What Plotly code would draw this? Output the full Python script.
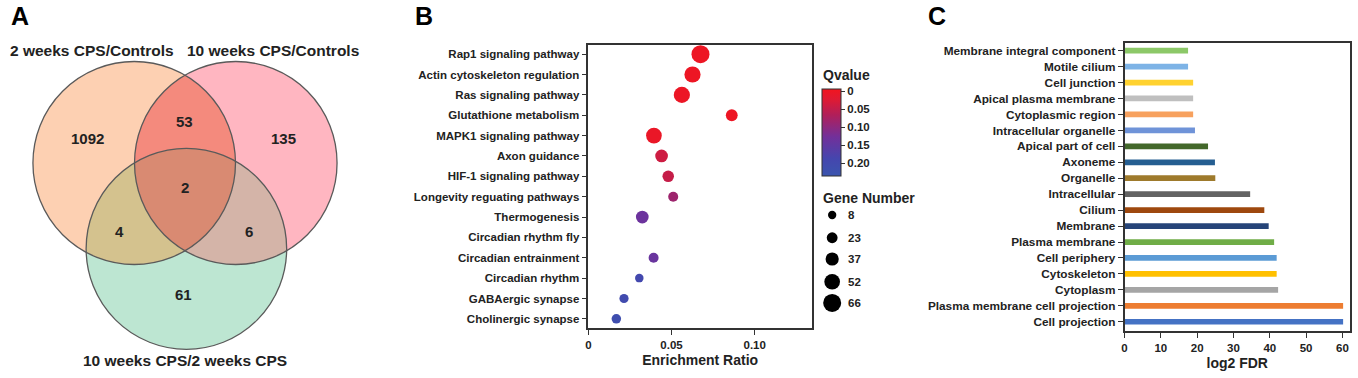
import numpy as np
import plotly.graph_objects as go

# ---------------- DATA ----------------
# Panel A – Venn diagram
venn_sets = ["2 weeks CPS/Controls", "10 weeks CPS/Controls", "10 weeks CPS/2 weeks CPS"]
venn_regions = [(0,), (1,), (2,), (0, 1), (0, 2), (1, 2), (0, 1, 2)]
venn_counts = [1092, 135, 61, 53, 4, 6, 2]

# Panel B – KEGG enrichment bubble plot
pathways = [
    "Rap1 signaling pathway", "Actin cytoskeleton regulation", "Ras signaling pathway",
    "Glutathione metabolism", "MAPK1 signaling pathway", "Axon guidance",
    "HIF-1 signaling pathway", "Longevity reguating pathways", "Thermogenesis",
    "Circadian rhythm fly", "Circadian entrainment", "Circadian rhythm",
    "GABAergic synapse", "Cholinergic synapse",
]
enrichment_ratio = [0.0674, 0.0626, 0.0562, 0.0862, 0.0394, 0.0440, 0.0480, 0.0510,
                    0.0324, None, 0.0392, 0.0306, 0.0214, 0.0168]
qvalues = [0.002, 0.002, 0.003, 0.002, 0.006, 0.040, 0.047, 0.085, 0.135, None,
           0.140, 0.195, 0.205, 0.212]
gene_numbers = [66, 55, 55, 29, 52, 34, 27, 18, 34, None, 18, 9, 13, 15]
gene_legend = [8, 23, 37, 52, 66]
qvalue_ticks = [0, 0.05, 0.10, 0.15, 0.20]
qvalue_ticktext = ["0", "0.05", "0.10", "0.15", "0.20"]

# Panel C – GO cellular component bars (top to bottom as shown)
components = [
    "Membrane integral component", "Motile cilium", "Cell junction", "Apical plasma membrane",
    "Cytoplasmic region", "Intracellular organelle", "Apical part of cell", "Axoneme",
    "Organelle", "Intracellular", "Cilium", "Membrane", "Plasma membrane", "Cell periphery",
    "Cytoskeleton", "Cytoplasm", "Plasma membrane cell projection", "Cell projection",
]
log2_fdr = [17.5, 17.5, 18.9, 18.9, 18.9, 19.4, 23.0, 24.9, 25.0, 34.6, 38.5, 39.7,
            41.2, 41.9, 41.9, 42.3, 60.2, 60.2]

# ---------------- STYLE ----------------
W, H = 1358, 378
FONT = "Liberation Sans, Arial, sans-serif"
DARK = "#222222"
LINE = "#333333"

bar_colors = ["#8CC868", "#7DB3E6", "#FFD230", "#BFBFBF", "#F7A15E", "#6F93D8", "#43682B",
              "#255E91", "#9E7A2C", "#636363", "#9E480E", "#264478", "#70AD47", "#5B9BD5",
              "#FFC000", "#A5A5A5", "#ED7D31", "#4472C4"]

venn_circles = [(131.5, 163.0, 101.5), (233.3, 163.0, 101.5), (183.8, 248.8, 100.5)]
venn_region_colors = ["#FDD0B2", "#FFB6C1", "#BDE6D2", "#F48A7D", "#D4C28E", "#D4B4A8", "#D98A72"]
venn_count_pos = [(85, 138), (281, 138), (181, 294), (182, 121), (117, 231), (247, 231), (182, 187)]
venn_title_pos = [(88.7, 50), (271, 50), (182, 360)]


def px_x(p):
    return p / W


def px_y(p):
    return 1 - p / H


def region_path(idx):
    pts = []
    for i in idx:
        cx, cy, r = venn_circles[i]
        for t in np.linspace(0, 2 * np.pi, 1440, endpoint=False):
            x, y = cx + r * np.cos(t), cy + r * np.sin(t)
            ok = True
            for j in idx:
                if j == i:
                    continue
                jx, jy, jr = venn_circles[j]
                if (x - jx) ** 2 + (y - jy) ** 2 > (jr + 1e-6) ** 2:
                    ok = False
                    break
            if ok:
                pts.append((x, y))
    pts = np.array(pts)
    c = pts.mean(axis=0)
    order = np.argsort(np.arctan2(pts[:, 1] - c[1], pts[:, 0] - c[0]))
    pts = pts[order]
    return "M " + " L ".join(f"{x:.2f},{y:.2f}" for x, y in pts) + " Z"


fig = go.Figure()

# ---------- Panel B: bubbles ----------
def gsize(n):
    return 0 if n is None else 7 + 0.167 * n

cmin, cmax = -0.236, 0.0056
colorscale = [[0.0, "#3A55AE"], [0.2, "#4546AE"], [0.45, "#72309A"],
              [0.7, "#B01F5A"], [0.88, "#DF1A33"], [1.0, "#F2151F"]]

fig.add_trace(go.Scatter(
    x=[np.nan if v is None else v for v in enrichment_ratio], y=pathways,
    mode="markers", xaxis="x", yaxis="y",
    marker=dict(
        size=[gsize(n) for n in gene_numbers], opacity=1,
        color=[np.nan if q is None else -q for q in qvalues],
        colorscale=colorscale, cmin=cmin, cmax=cmax, line=dict(width=0),
        colorbar=dict(
            x=px_x(821), xanchor="left", xpad=0,
            y=px_y(89), yanchor="top", ypad=0,
            len=87 / H, lenmode="fraction", thickness=19, thicknessmode="pixels",
            tickvals=[-v for v in qvalue_ticks], ticktext=qvalue_ticktext,
            ticks="outside", ticklen=4, tickcolor=LINE,
            outlinecolor=LINE, outlinewidth=1,
            tickfont=dict(family=FONT, size=11.5, color=DARK, weight="bold"),
        ),
    ),
    showlegend=False, hoverinfo="skip",
))

# Gene number size legend
fig.add_trace(go.Scatter(
    x=[0] * len(gene_legend), y=gene_legend, mode="markers", xaxis="x4", yaxis="y4",
    marker=dict(size=[gsize(n) for n in gene_legend], color="black", opacity=1,
                line=dict(width=0)),
    showlegend=False, hoverinfo="skip",
))

# ---------- Panel C: bars ----------
fig.add_trace(go.Bar(
    x=log2_fdr[::-1], y=components[::-1], orientation="h", xaxis="x2", yaxis="y2",
    marker=dict(color=bar_colors[::-1], line=dict(width=0)), width=0.36,
    showlegend=False, hoverinfo="skip",
))

# ---------- Panel A: Venn shapes ----------
shapes = []
for i, (cx, cy, r) in enumerate(venn_circles):
    shapes.append(dict(type="circle", xref="x3", yref="y3", x0=cx - r, x1=cx + r,
                       y0=cy - r, y1=cy + r, fillcolor=venn_region_colors[i],
                       line=dict(width=0), layer="below"))
for k in range(3, 7):
    shapes.append(dict(type="path", xref="x3", yref="y3", path=region_path(venn_regions[k]),
                       fillcolor=venn_region_colors[k], line=dict(width=0), layer="below"))
for cx, cy, r in venn_circles:
    shapes.append(dict(type="circle", xref="x3", yref="y3", x0=cx - r, x1=cx + r,
                       y0=cy - r, y1=cy + r, line=dict(color="#5A5A5A", width=1.3)))

annotations = []
for (x, y), n in zip(venn_count_pos, venn_counts):
    annotations.append(dict(x=x, y=y, xref="x3", yref="y3", text=str(n), showarrow=False,
                            font=dict(family=FONT, size=15, color=DARK, weight="bold")))
for (x, y), t in zip(venn_title_pos, venn_sets):
    annotations.append(dict(x=x, y=y, xref="x3", yref="y3", text=t, showarrow=False,
                            font=dict(family=FONT, size=15.5, color=DARK, weight="bold")))

# Gene number legend labels
for n in gene_legend:
    annotations.append(dict(x=14, y=n, xref="x4", yref="y4", text=str(n), showarrow=False,
                            xanchor="left", yanchor="middle",
                            font=dict(family=FONT, size=11.5, color=DARK, weight="bold")))

# Legend titles
annotations.append(dict(x=px_x(820), y=px_y(75), xref="paper", yref="paper", text="Qvalue",
                        showarrow=False, xanchor="left", yanchor="middle",
                        font=dict(family=FONT, size=14, color=DARK, weight="bold")))
annotations.append(dict(x=px_x(820), y=px_y(198), xref="paper", yref="paper", text="Gene Number",
                        showarrow=False, xanchor="left", yanchor="middle",
                        font=dict(family=FONT, size=14, color=DARK, weight="bold")))

# Panel letters
for letter, x in [("A", 6), ("B", 411), ("C", 925)]:
    annotations.append(dict(x=px_x(x), y=px_y(16), xref="paper", yref="paper", text=letter,
                            showarrow=False, xanchor="left", yanchor="middle",
                            font=dict(family=FONT, size=25, color="black", weight="bold")))

axis_common = dict(showline=True, linecolor=LINE, linewidth=1.5, mirror=True, showgrid=False,
                   zeroline=False, ticks="outside", ticklen=5, tickwidth=1.2, tickcolor=LINE)

fig.update_layout(
    width=W, height=H, margin=dict(l=0, r=0, t=0, b=0),
    paper_bgcolor="white", plot_bgcolor="white",
    font=dict(family=FONT, color=DARK),
    shapes=shapes, annotations=annotations,
    xaxis=dict(domain=[px_x(586.7), px_x(810.7)], anchor="y", range=[0, 0.1344],
               tickvals=[0, 0.05, 0.10], ticktext=["0", "0.05", "0.10"],
               tickfont=dict(family=FONT, size=11.5, color=DARK, weight="bold"),
               title=dict(text="Enrichment Ratio", standoff=6,
                          font=dict(family=FONT, size=14, color=DARK, weight="bold")),
               **axis_common),
    yaxis=dict(domain=[px_y(328), px_y(45)], anchor="x", type="category",
               categoryorder="array", categoryarray=pathways,
               range=[len(pathways) - 1 + 0.45, -0.45],
               tickfont=dict(family=FONT, size=11.5, color=DARK, weight="bold"),
               **axis_common),
    xaxis2=dict(domain=[px_x(1124), px_x(1350)], anchor="y2", range=[0, 62.1],
                tickvals=[0, 10, 20, 30, 40, 50, 60],
                tickfont=dict(family=FONT, size=11.5, color=DARK, weight="bold"),
                title=dict(text="log2 FDR", standoff=6,
                           font=dict(family=FONT, size=14, color=DARK, weight="bold")),
                **axis_common),
    yaxis2=dict(domain=[px_y(331), px_y(43)], anchor="x2", type="category",
                categoryorder="array", categoryarray=components[::-1],
                range=[-0.58, len(components) - 1 + 0.48],
                tickfont=dict(family=FONT, size=11.8, color=DARK, weight="bold"),
                **axis_common),
    xaxis3=dict(domain=[0, px_x(400)], anchor="y3", range=[0, 400], visible=False,
                fixedrange=True),
    yaxis3=dict(domain=[0, 1], anchor="x3", range=[H, 0], visible=False, fixedrange=True),
    xaxis4=dict(domain=[px_x(820), px_x(900)], anchor="y4", range=[-11, 69], visible=False),
    yaxis4=dict(domain=[px_y(313), px_y(205)], anchor="x4", range=[72.6, 1.4], visible=False),
)

fig.write_html("out.html", config={"displayModeBar": False},
               post_script="document.body.style.margin='0';document.body.style.overflow='hidden';")
